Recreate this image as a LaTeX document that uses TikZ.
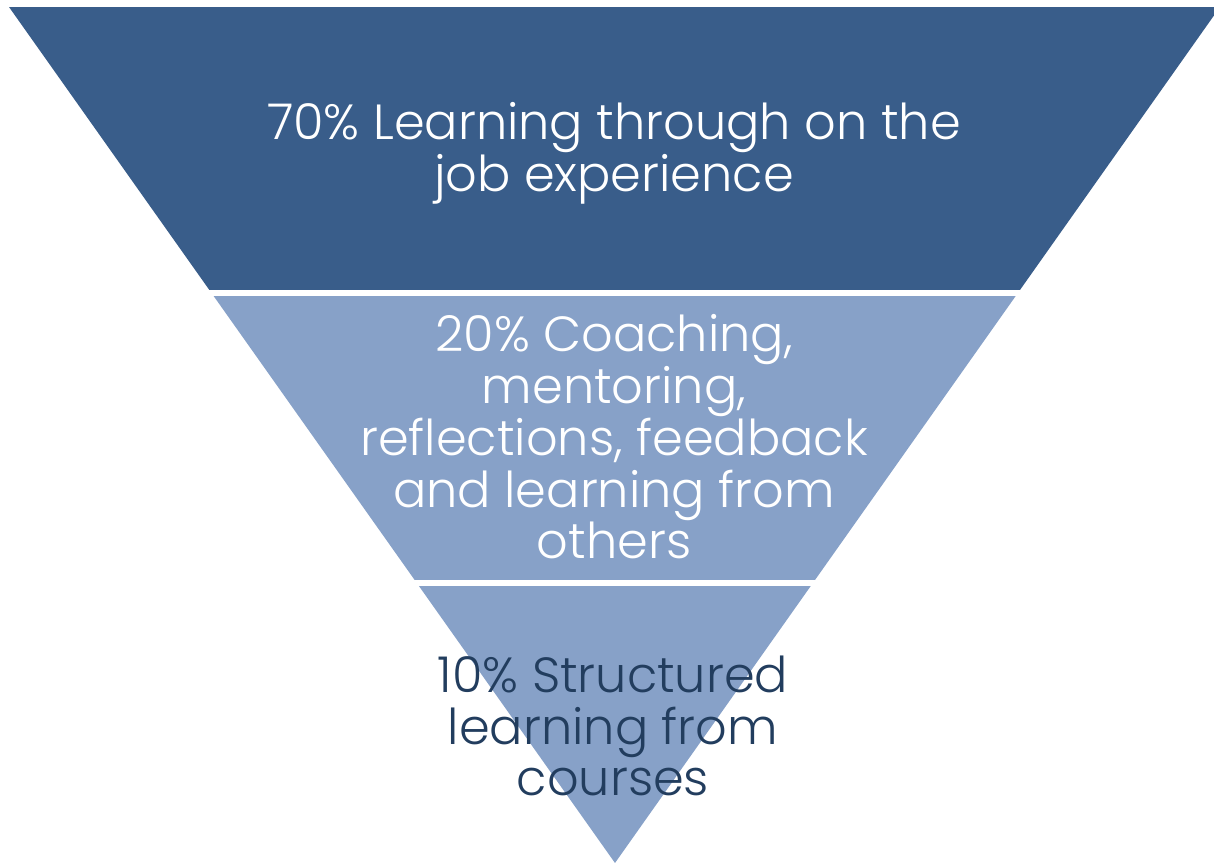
\documentclass[tikz,border=0pt]{standalone}
\usepackage{fontspec}
\setmainfont{Poppins}[UprightFont=* Light]
\definecolor{darkband}{RGB}{57,93,138}
\definecolor{lightband}{RGB}{135,161,200}
\definecolor{navytext}{RGB}{34,61,94}
\newcommand\bandfont{\fontsize{14.05}{14.7}\selectfont\lineskiplimit-20pt\relax}
\begin{document}
\begin{tikzpicture}[x=0.01cm,y=-0.01cm,
    label/.style={align=center,font=\bandfont,inner sep=0pt}]
        \useasboundingbox (0,0) rectangle (1214,865);

        % Funnel bands
        \begin{scope}
            \clip (9,7) -- (1220,7) -- (615,863) -- cycle;
            \fill[darkband] (0,7) rectangle (1230,290.5);
            \fill[lightband] (0,296) rectangle (1230,580);
            \fill[lightband] (0,586) rectangle (1230,870);
        \end{scope}

        % Labels
        \node[label,text=white] (job) at (614,153) {70\% Learning through on the\\job experience};
        \node[label,text=white] (coach) at (614,437) {20\% Coaching,\\mentoring,\\reflections, feedback\\and learning from\\others};
        \node[label,text=navytext] (course) at (613,726) {10\% Structured\\learning from\\courses};
    \end{tikzpicture}
\end{document}
